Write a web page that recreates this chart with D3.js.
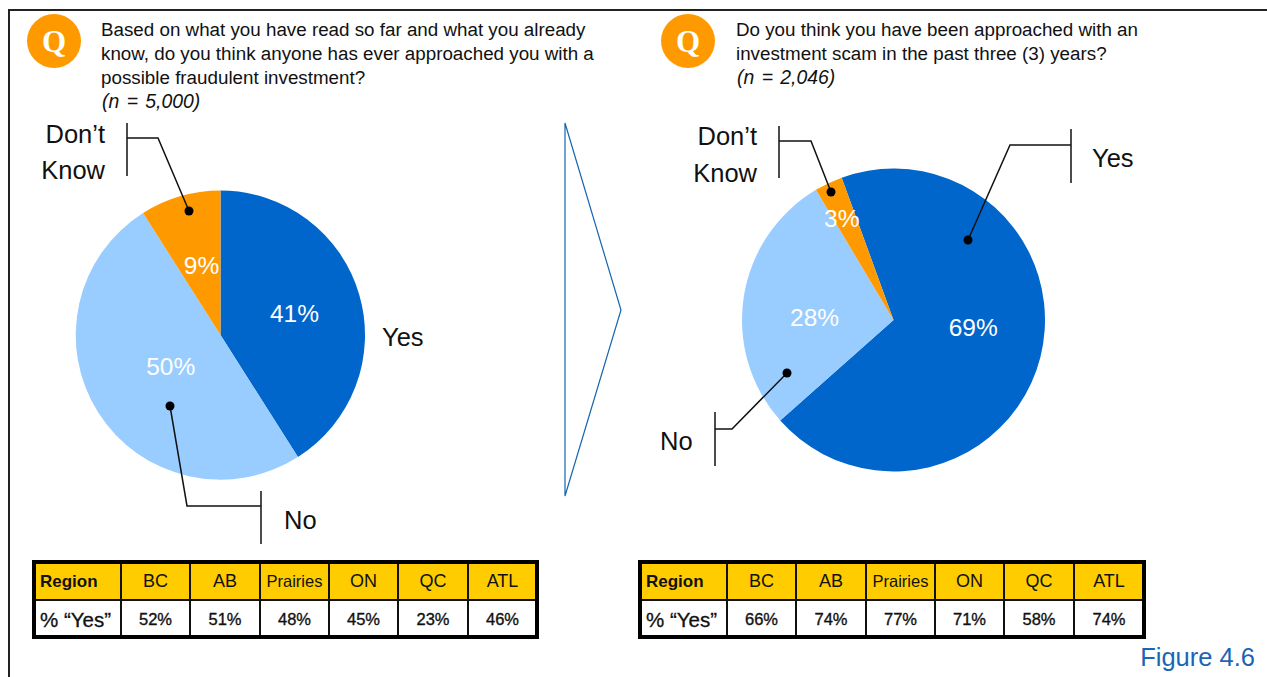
<!DOCTYPE html>
<html><head><meta charset="utf-8">
<script src="https://cdn.jsdelivr.net/npm/d3@7"></script>
<style>
html,body{margin:0;padding:0;background:#fff;overflow:hidden}
svg{display:block}
text{font-family:"Liberation Sans",Arial,sans-serif;fill:#111}
</style></head><body>
<svg id="c" width="1267" height="677"></svg>
<script>
const sliceNames = ["Yes","No","Don’t Know"];
const sliceColors = ["#0066CC","#99CCFF","#FF9900"];
const leftValues = [41,50,9];
const rightValues = [69,28,3];
const regions = ["BC","AB","Prairies","ON","QC","ATL"];
const leftRegionYes = [52,51,48,45,23,46];
const rightRegionYes = [66,74,77,71,58,74];
const leftQuestion = ["Based on what you have read so far and what you already","know, do you think anyone has ever approached you with a","possible fraudulent investment?"];
const rightQuestion = ["Do you think you have been approached with an","investment scam in the past three (3) years?"];
const leftN = "(n = 5,000)";
const rightN = "(n = 2,046)";

const svg = d3.select("#c");
const rad = d => d*Math.PI/180;

// frame
svg.append("path").attr("d","M9,677V10H1267").attr("fill","none").attr("stroke","#222").attr("stroke-width",2);

function question(x,cx,lines,n){
  svg.append("circle").attr("cx",cx).attr("cy",41).attr("r",27).attr("fill","#FF9900");
  svg.append("text").attr("x",cx).attr("y",52).attr("text-anchor","middle")
    .style("font-family","'Liberation Serif',serif").style("font-weight","bold").style("font-size","31px").style("fill","#fff").text("Q");
  lines.concat([n]).forEach((t,i)=>{
    const isN=i===lines.length;
    svg.append("text").attr("x",x+(isN?1:0)).attr("y",36+24*i).style("font-size",isN?"19.4px":"18.8px")
      .style("font-style",isN?"italic":"normal").style("word-spacing",isN?"2px":"0").text(t);
  });
}
question(101,54,leftQuestion,leftN);
question(736,688,rightQuestion,rightN);

function pieChart(values,cx,cy,r,startDeg,labelPolar){
  const pie = d3.pie().sort(null).startAngle(rad(startDeg)).endAngle(rad(startDeg+360));
  const arc = d3.arc().innerRadius(0).outerRadius(r);
  const g = svg.append("g").attr("transform",`translate(${cx},${cy})`);
  const arcs = pie(values);
  g.selectAll("path").data(arcs).join("path").attr("d",arc).attr("fill",(d,i)=>sliceColors[i]);
  g.selectAll("text").data(arcs).join("text")
    .attr("text-anchor","middle").attr("dominant-baseline","central")
    .style("font-size","24.5px").style("fill","#fff")
    .attr("transform",(d,i)=>{
      const a=(d.startAngle+d.endAngle)/2+rad(labelPolar[i][1]), rr=labelPolar[i][0];
      return `translate(${rr*Math.sin(a)},${-rr*Math.cos(a)})`;
    }).text(d=>d.value+"%");
}
pieChart(leftValues,220.5,335,144.5,0,[[77,0],[59,0],[72.5,1]]);
pieChart(rightValues,893.5,320,151.5,-20,[[80,-9],[79,-6.8],[114,-1.6]]);

// leader lines
function leader(pts,bar){
  svg.append("path").attr("d",d3.line()(pts)).attr("fill","none").attr("stroke","#111").attr("stroke-width",1.5);
  svg.append("path").attr("d",d3.line()(bar)).attr("fill","none").attr("stroke","#111").attr("stroke-width",1.5);
  svg.append("circle").attr("cx",pts[0][0]).attr("cy",pts[0][1]).attr("r",4.5).attr("fill","#000");
}
leader([[189,211],[158,138],[127,138]],[[127,123],[127,176]]);
leader([[170,406],[187,506],[261,506]],[[261,491],[261,544]]);
leader([[831,192],[811,141],[779,141]],[[779,126],[779,178]]);
leader([[968,240],[1010,145],[1071,145]],[[1071,129],[1071,183]]);
leader([[787,373],[732,429],[715,429]],[[715,412],[715,466]]);

function label(t,x,y,anchor){
  svg.append("text").attr("x",x).attr("y",y).attr("text-anchor",anchor).attr("dominant-baseline","central")
    .style("font-size","25.5px").text(t);
}
label("Don’t",105,134,"end");label("Know",105,170,"end");
label("Yes",382,337,"start");label("No",284,520,"start");
label("Don’t",757,136,"end");label("Know",757,173,"end");
label("Yes",1092,158,"start");label("No",660,441,"start");

// arrow-like triangle
svg.append("path").attr("d",d3.line().curve(d3.curveLinearClosed)([[565,123],[621,310],[565,496]]))
  .attr("fill","none").attr("stroke","#1565B0").attr("stroke-width",1.2);

// tables
function table(x0,x1,edges,vals){
  const yTop=562,yMid=600,yBot=637;
  const g=svg.append("g");
  g.append("rect").attr("x",x0).attr("y",yTop).attr("width",x1-x0).attr("height",yMid-yTop).attr("fill","#FFCC00");
  g.append("rect").attr("x",x0).attr("y",yMid).attr("width",x1-x0).attr("height",yBot-yMid).attr("fill","#fff");
  const xs=[x0].concat(edges,[x1]);
  edges.forEach(e=>g.append("line").attr("x1",e).attr("x2",e).attr("y1",yTop).attr("y2",yBot).attr("stroke","#111").attr("stroke-width",2));
  g.append("line").attr("x1",x0).attr("x2",x1).attr("y1",yMid).attr("y2",yMid).attr("stroke","#111").attr("stroke-width",2);
  g.append("rect").attr("x",x0).attr("y",yTop).attr("width",x1-x0).attr("height",yBot-yTop).attr("fill","none").attr("stroke","#000").attr("stroke-width",4);
  g.append("text").attr("x",x0+6).attr("y",581).attr("dominant-baseline","central").style("font-size","17px").style("font-weight","bold").text("Region");
  g.append("text").attr("x",x0+6).attr("y",619).attr("dominant-baseline","central").style("font-size","20.5px")
    .style("stroke","#111").style("stroke-width","0.3px").text("% “Yes”");
  regions.forEach((r,i)=>{
    const c=(xs[i+1]+xs[i+2])/2;
    g.append("text").attr("x",c).attr("y",581).attr("text-anchor","middle").attr("dominant-baseline","central")
      .style("font-size",r==="Prairies"?"16.5px":"18px").text(r);
    g.append("text").attr("x",c).attr("y",619).attr("text-anchor","middle").attr("dominant-baseline","central")
      .style("font-size","16.5px").style("stroke","#111").style("stroke-width","0.35px").text(vals[i]+"%");
  });
}
table(34,537,[121,190,260,329,398,468],leftRegionYes);
table(640,1144,[727,796,866,935,1004,1074],rightRegionYes);

svg.append("text").attr("x",1255).attr("y",666).attr("text-anchor","end").style("font-size","25.5px").style("fill","#1A66B3").text("Figure 4.6");
</script>
</body></html>
